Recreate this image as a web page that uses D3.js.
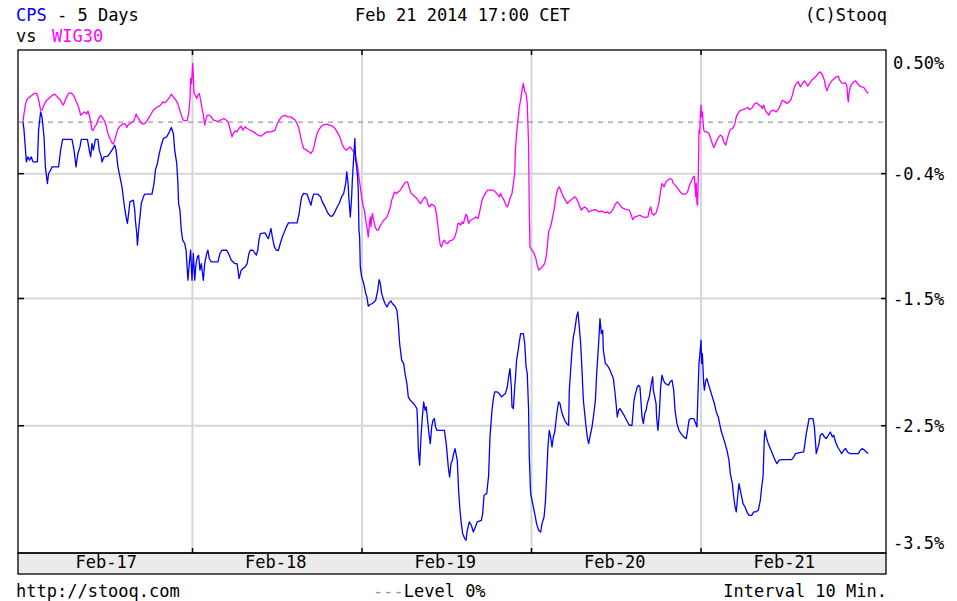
<!DOCTYPE html>
<html>
<head>
<meta charset="utf-8">
<script src="https://cdn.jsdelivr.net/npm/d3@7"></script>
<style>
  html, body { margin: 0; padding: 0; background: #fff; }
  svg { display: block; }
  text { font-family: "DejaVu Sans Mono", monospace; font-size: 17px; }
</style>
</head>
<body>
<div id="chart"></div>
<script>
// ---------- DATA ----------
const dayLabels = ["Feb-17", "Feb-18", "Feb-19", "Feb-20", "Feb-21"];
const yTickValues = [0.5, -0.43, -1.47, -2.53, -3.5];
const yTickLabels = ["0.50%", "-0.4%", "-1.5%", "-2.5%", "-3.5%"];
const gridValues = [-0.43, -1.47, -2.53];
const levelValue = 0;

// [time in trading days since Feb-17 open, % change]
const cpsSeries = [
[0,0],[0.006,-0.068],[0.020,-0.332],[0.029,-0.290],[0.039,-0.318],[0.049,-0.290],[0.059,-0.332],[0.085,-0.332],[0.092,-0.068],[0.104,0.085],[0.112,0.043],[0.124,-0.123],[0.132,-0.373],[0.144,-0.512],[0.151,-0.429],[0.163,-0.401],[0.171,-0.373],[0.210,-0.373],[0.222,-0.234],[0.234,-0.145],[0.289,-0.145],[0.301,-0.234],[0.313,-0.373],[0.324,-0.262],[0.336,-0.207],[0.344,-0.145],[0.380,-0.145],[0.391,-0.234],[0.399,-0.290],[0.407,-0.179],[0.415,-0.234],[0.427,-0.145],[0.442,-0.145],[0.450,-0.234],[0.462,-0.290],[0.466,-0.332],[0.478,-0.290],[0.501,-0.284],[0.525,-0.234],[0.541,-0.193],[0.549,-0.234],[0.560,-0.373],[0.572,-0.457],[0.584,-0.540],[0.596,-0.679],[0.608,-0.790],[0.616,-0.845],[0.623,-0.762],[0.631,-0.665],[0.651,-0.651],[0.659,-0.734],[0.663,-0.818],[0.671,-0.929],[0.675,-1.026],[0.682,-0.901],[0.690,-0.790],[0.698,-0.679],[0.710,-0.623],[0.718,-0.601],[0.761,-0.601],[0.773,-0.512],[0.781,-0.401],[0.793,-0.345],[0.804,-0.262],[0.816,-0.193],[0.828,-0.137],[0.848,-0.123],[0.859,-0.095],[0.875,-0.045],[0.887,-0.095],[0.895,-0.234],[0.907,-0.345],[0.914,-0.512],[0.918,-0.679],[0.926,-0.734],[0.934,-0.901],[0.942,-0.984],[0.954,-1.012],[0.962,-1.068],[0.973,-1.318],[0.981,-1.179],[0.989,-1.068],[0.997,-1.318],[1.005,-1.095],[1.013,-1.318],[1.021,-1.179],[1.029,-1.123],[1.036,-1.109],[1.044,-1.234],[1.052,-1.179],[1.064,-1.318],[1.072,-1.179],[1.084,-1.095],[1.091,-1.068],[1.099,-1.137],[1.111,-1.165],[1.150,-1.165],[1.162,-1.095],[1.174,-1.068],[1.202,-1.068],[1.217,-1.109],[1.229,-1.151],[1.249,-1.179],
[1.263,-1.179],[1.275,-1.304],[1.287,-1.234],[1.298,-1.220],[1.310,-1.207],[1.322,-1.179],[1.333,-1.095],[1.341,-1.068],[1.357,-1.068],[1.369,-1.095],[1.377,-1.109],[1.385,-1.068],[1.392,-0.984],[1.400,-0.929],[1.428,-0.923],[1.440,-0.957],[1.448,-0.970],[1.455,-0.929],[1.463,-0.887],[1.471,-0.957],[1.483,-1.040],[1.495,-1.068],[1.507,-1.068],[1.518,-1.012],[1.530,-0.957],[1.542,-0.915],[1.554,-0.873],[1.566,-0.840],[1.617,-0.840],[1.629,-0.762],[1.637,-0.679],[1.644,-0.623],[1.656,-0.595],[1.676,-0.601],[1.688,-0.651],[1.699,-0.693],[1.707,-0.637],[1.715,-0.601],[1.739,-0.601],[1.755,-0.623],[1.766,-0.665],[1.782,-0.707],[1.798,-0.757],[1.813,-0.784],[1.825,-0.784],[1.837,-0.757],[1.849,-0.720],[1.865,-0.679],[1.880,-0.623],[1.892,-0.595],[1.904,-0.512],[1.910,-0.415],[1.918,-0.512],[1.922,-0.623],[1.931,-0.790],[1.939,-0.623],[1.943,-0.484],[1.950,-0.318],[1.954,-0.234],[1.958,-0.137],[1.962,-0.318],[1.966,-0.345],[1.974,-0.457],[1.978,-0.568],[1.982,-0.901],[1.986,-0.957],[1.990,-1.207],[1.998,-1.290],[2.010,-1.345],[2.022,-1.429],[2.029,-1.457],[2.037,-1.534],[2.049,-1.518],[2.061,-1.512],[2.073,-1.498],[2.081,-1.484],[2.093,-1.401],[2.101,-1.312],[2.108,-1.345],[2.116,-1.429],[2.128,-1.484],[2.136,-1.512],[2.148,-1.540],[2.159,-1.507],[2.171,-1.490],[2.179,-1.512],[2.195,-1.534],[2.206,-1.568],[2.214,-1.679],[2.222,-1.845],[2.234,-1.984],[2.246,-2.012],[2.254,-2.095],[2.265,-2.179],[2.273,-2.290],[2.285,-2.318],[2.301,-2.340],[2.312,-2.359],[2.324,-2.387],[2.328,-2.512],[2.332,-2.720],[2.340,-2.859],[2.348,-2.623],[2.356,-2.457],[2.364,-2.332],[2.372,-2.401],[2.379,-2.373],[2.387,-2.484],[2.395,-2.595],[2.403,-2.679],[2.411,-2.540],[2.419,-2.484],[2.427,-2.470],[2.434,-2.540],[2.442,-2.568],[2.486,-2.568],[2.497,-2.679],[2.509,-2.873],[2.517,-2.957],[2.525,-2.845],[2.533,-2.818],[2.541,-2.762],[2.549,-2.720],
[2.562,-2.818],[2.570,-3.068],[2.578,-3.234],[2.586,-3.345],[2.594,-3.429],[2.606,-3.470],[2.614,-3.484],[2.621,-3.401],[2.633,-3.331],[2.645,-3.359],[2.657,-3.415],[2.669,-3.373],[2.680,-3.331],[2.704,-3.318],[2.712,-3.262],[2.720,-3.109],[2.736,-3.095],[2.747,-2.943],[2.755,-2.623],[2.767,-2.401],[2.775,-2.304],[2.783,-2.248],[2.798,-2.248],[2.810,-2.262],[2.822,-2.290],[2.834,-2.276],[2.846,-2.262],[2.857,-2.207],[2.865,-2.123],[2.873,-2.054],[2.881,-2.207],[2.885,-2.373],[2.893,-2.387],[2.901,-2.207],[2.905,-2.137],[2.912,-1.984],[2.920,-1.915],[2.928,-1.832],[2.936,-1.762],[2.952,-1.762],[2.960,-1.845],[2.968,-2.040],[2.975,-2.095],[2.983,-2.401],[2.987,-2.790],[2.995,-3.095],[3.007,-3.179],[3.019,-3.262],[3.030,-3.345],[3.042,-3.401],[3.054,-3.415],[3.062,-3.345],[3.074,-3.290],[3.082,-3.165],[3.089,-2.957],[3.097,-2.707],[3.105,-2.568],[3.113,-2.623],[3.121,-2.707],[3.129,-2.623],[3.137,-2.582],[3.145,-2.484],[3.152,-2.401],[3.160,-2.332],[3.168,-2.345],[3.176,-2.401],[3.184,-2.443],[3.196,-2.484],[3.207,-2.512],[3.219,-2.526],[3.223,-2.234],[3.231,-2.068],[3.239,-1.901],[3.247,-1.790],[3.255,-1.734],[3.266,-1.623],[3.274,-1.582],[3.282,-1.707],[3.290,-1.845],[3.298,-2.068],[3.306,-2.318],[3.314,-2.429],[3.322,-2.540],[3.329,-2.623],[3.337,-2.679],[3.345,-2.623],[3.357,-2.540],[3.365,-2.457],[3.377,-2.318],[3.384,-2.109],[3.396,-1.845],[3.404,-1.637],[3.412,-1.762],[3.420,-1.734],[3.424,-1.901],[3.436,-2.012],[3.447,-2.026],[3.459,-2.054],[3.471,-2.095],[3.483,-2.137],[3.491,-2.234],[3.499,-2.345],[3.506,-2.457],[3.514,-2.401],[3.522,-2.387],[3.534,-2.415],[3.546,-2.443],[3.561,-2.484],[3.577,-2.526],[3.593,-2.526],[3.605,-2.318],[3.613,-2.262],[3.624,-2.207],[3.632,-2.193],[3.640,-2.207],[3.644,-2.290],[3.652,-2.457],[3.660,-2.512],[3.668,-2.429],[3.676,-2.401],[3.683,-2.345],[3.695,-2.290],[3.707,-2.179],[3.715,-2.123],[3.719,-2.234],[3.727,-2.290],[3.735,-2.345],[3.738,-2.457],[3.746,-2.568],[3.754,-2.429],[3.762,-2.207],[3.770,-2.109],[3.778,-2.151],[3.790,-2.179],[3.809,-2.193],[3.817,-2.165],[3.829,-2.151],
[3.839,-2.234],[3.847,-2.401],[3.858,-2.512],[3.870,-2.568],[3.882,-2.595],[3.898,-2.623],[3.913,-2.637],[3.921,-2.568],[3.929,-2.484],[3.937,-2.470],[3.957,-2.470],[3.969,-2.512],[3.976,-2.540],[3.980,-2.359],[3.988,-2.012],[3.992,-1.957],[4.000,-1.818],[4.004,-2.012],[4.008,-1.929],[4.016,-2.179],[4.020,-2.234],[4.028,-2.151],[4.035,-2.137],[4.043,-2.179],[4.055,-2.234],[4.067,-2.290],[4.079,-2.345],[4.090,-2.415],[4.102,-2.457],[4.110,-2.512],[4.118,-2.568],[4.130,-2.623],[4.142,-2.679],[4.153,-2.734],[4.165,-2.818],[4.173,-2.929],[4.185,-3.012],[4.193,-3.123],[4.201,-3.207],[4.208,-3.248],[4.216,-3.123],[4.224,-3.012],[4.232,-3.068],[4.240,-3.123],[4.248,-3.179],[4.260,-3.207],[4.271,-3.248],[4.283,-3.276],[4.299,-3.276],[4.311,-3.248],[4.323,-3.248],[4.338,-3.234],[4.350,-3.151],[4.358,-3.040],[4.366,-2.957],[4.374,-2.623],[4.378,-2.568],[4.385,-2.623],[4.397,-2.679],[4.409,-2.720],[4.421,-2.762],[4.433,-2.804],[4.448,-2.846],[4.460,-2.818],[4.476,-2.812],[4.535,-2.812],[4.547,-2.790],[4.558,-2.762],[4.574,-2.756],[4.606,-2.748],[4.613,-2.679],[4.621,-2.595],[4.633,-2.507],[4.637,-2.470],[4.661,-2.470],[4.669,-2.540],[4.676,-2.679],[4.680,-2.762],[4.688,-2.720],[4.696,-2.679],[4.704,-2.609],[4.716,-2.595],[4.728,-2.623],[4.739,-2.637],[4.751,-2.609],[4.763,-2.582],[4.775,-2.623],[4.783,-2.609],[4.794,-2.665],[4.806,-2.707],[4.818,-2.734],[4.830,-2.762],[4.842,-2.734],[4.853,-2.720],[4.865,-2.748],[4.877,-2.762],[4.928,-2.762],[4.940,-2.734],[4.952,-2.720],[4.964,-2.734],[4.975,-2.748],[4.987,-2.762]
];

const wig30Series = [
[0,0],[0.006,0.071],[0.014,0.141],[0.022,0.182],[0.029,0.196],[0.041,0.210],[0.053,0.224],[0.065,0.238],[0.081,0.238],[0.088,0.210],[0.096,0.155],[0.104,0.099],[0.112,0.099],[0.120,0.127],[0.128,0.155],[0.140,0.182],[0.151,0.196],[0.163,0.210],[0.175,0.224],[0.187,0.232],[0.199,0.216],[0.210,0.196],[0.222,0.182],[0.230,0.155],[0.238,0.141],[0.246,0.168],[0.258,0.210],[0.269,0.238],[0.285,0.243],[0.297,0.224],[0.309,0.188],[0.321,0.149],[0.332,0.105],[0.340,0.057],[0.352,0.071],[0.364,0.085],[0.376,0.066],[0.383,0.093],[0.391,0.057],[0.399,0.002],[0.407,-0.068],[0.415,-0.068],[0.423,-0.040],[0.431,-0.026],[0.439,0.002],[0.446,0.030],[0.458,0.055],[0.466,0.043],[0.478,0.016],[0.490,-0.026],[0.501,-0.095],[0.513,-0.137],[0.525,-0.173],[0.533,-0.184],[0.541,-0.151],[0.549,-0.109],[0.557,-0.068],[0.568,-0.040],[0.580,-0.026],[0.592,-0.012],[0.604,-0.018],[0.612,-0.045],[0.619,-0.026],[0.631,-0.012],[0.639,-0.007],[0.651,0.002],[0.659,0.030],[0.667,0.066],[0.675,0.043],[0.682,0.030],[0.690,0.010],[0.698,-0.012],[0.710,-0.018],[0.722,-0.007],[0.734,0.016],[0.745,0.043],[0.757,0.071],[0.769,0.099],[0.781,0.113],[0.793,0.127],[0.804,0.132],[0.816,0.149],[0.824,0.168],[0.832,0.160],[0.844,0.168],[0.855,0.188],[0.867,0.210],[0.875,0.232],[0.887,0.210],[0.899,0.188],[0.911,0.160],[0.922,0.113],[0.934,0.057],[0.946,0.016],[0.958,0.010],[0.970,0.016],[0.977,0.071],[0.985,0.182],[0.989,0.363],[0.993,0.321],[0.997,0.377],[1.001,0.488],[1.005,0.377],[1.009,0.238],[1.017,0.224],[1.025,0.196],[1.032,0.224],[1.040,0.238],[1.048,0.182],[1.056,0.113],[1.064,0.057],[1.072,-0.026],[1.080,0.030],[1.088,0.057],[1.099,0.057],[1.111,0.043],[1.123,0.016],[1.139,0.010],[1.150,0.002],[1.162,0.016],[1.174,0.021],[1.186,0.030],[1.198,0.016],[1.209,0.002],[1.221,-0.054],[1.233,-0.123],[1.241,-0.095],[1.253,-0.073],
[1.263,-0.082],[1.274,-0.054],[1.286,-0.034],[1.298,-0.068],[1.310,-0.040],[1.322,-0.054],[1.333,-0.062],[1.349,-0.073],[1.361,-0.082],[1.373,-0.095],[1.388,-0.109],[1.404,-0.118],[1.420,-0.101],[1.440,-0.082],[1.463,-0.082],[1.487,-0.068],[1.495,-0.034],[1.506,0.002],[1.518,0.030],[1.530,0.049],[1.546,0.055],[1.561,0.043],[1.577,0.043],[1.593,0.030],[1.605,0.016],[1.617,-0.012],[1.628,-0.054],[1.636,-0.109],[1.644,-0.165],[1.656,-0.220],[1.672,-0.234],[1.687,-0.248],[1.699,-0.262],[1.711,-0.234],[1.719,-0.193],[1.727,-0.137],[1.735,-0.095],[1.746,-0.062],[1.758,-0.040],[1.770,-0.026],[1.790,-0.018],[1.809,-0.026],[1.825,-0.034],[1.841,-0.054],[1.853,-0.082],[1.864,-0.109],[1.876,-0.151],[1.884,-0.193],[1.896,-0.220],[1.908,-0.234],[1.919,-0.220],[1.931,-0.207],[1.943,-0.234],[1.951,-0.248],[1.959,-0.234],[1.963,-0.290],[1.967,-0.318],[1.974,-0.373],[1.982,-0.457],[1.990,-0.540],[1.998,-0.623],[2.006,-0.693],[2.014,-0.734],[2.022,-0.818],[2.029,-0.873],[2.037,-0.957],[2.045,-0.832],[2.049,-0.790],[2.053,-0.873],[2.057,-0.804],[2.061,-0.762],[2.069,-0.818],[2.077,-0.873],[2.088,-0.901],[2.096,-0.901],[2.104,-0.873],[2.116,-0.845],[2.128,-0.818],[2.140,-0.804],[2.147,-0.790],[2.159,-0.748],[2.167,-0.707],[2.175,-0.651],[2.183,-0.623],[2.191,-0.582],[2.203,-0.595],[2.214,-0.582],[2.226,-0.568],[2.238,-0.540],[2.250,-0.512],[2.262,-0.498],[2.269,-0.498],[2.277,-0.540],[2.289,-0.590],[2.301,-0.609],[2.313,-0.623],[2.324,-0.637],[2.336,-0.665],[2.344,-0.679],[2.352,-0.665],[2.360,-0.645],[2.372,-0.623],[2.383,-0.651],[2.391,-0.693],[2.399,-0.707],[2.411,-0.684],[2.423,-0.693],[2.431,-0.707],[2.439,-0.762],[2.446,-0.845],[2.454,-0.943],[2.462,-1.026],[2.470,-1.040],[2.478,-0.998],[2.486,-0.984],[2.494,-1.007],[2.505,-1.012],[2.517,-0.990],
[2.531,-0.984],[2.543,-0.970],[2.551,-0.943],[2.559,-0.901],[2.566,-0.845],[2.574,-0.845],[2.582,-0.859],[2.590,-0.832],[2.598,-0.845],[2.606,-0.804],[2.614,-0.768],[2.621,-0.790],[2.629,-0.845],[2.637,-0.823],[2.649,-0.812],[2.661,-0.804],[2.673,-0.790],[2.684,-0.804],[2.692,-0.762],[2.700,-0.707],[2.708,-0.651],[2.716,-0.623],[2.728,-0.595],[2.740,-0.568],[2.775,-0.568],[2.787,-0.582],[2.798,-0.601],[2.810,-0.623],[2.818,-0.595],[2.826,-0.623],[2.838,-0.651],[2.850,-0.693],[2.857,-0.707],[2.865,-0.679],[2.873,-0.637],[2.885,-0.595],[2.893,-0.512],[2.901,-0.429],[2.905,-0.234],[2.912,-0.095],[2.920,0.016],[2.928,0.127],[2.936,0.182],[2.944,0.266],[2.952,0.321],[2.960,0.252],[2.968,0.238],[2.975,0.155],[2.983,-0.193],[2.987,-0.748],[2.991,-1.040],[3.003,-1.068],[3.011,-1.082],[3.019,-1.109],[3.026,-1.137],[3.034,-1.193],[3.042,-1.234],[3.054,-1.220],[3.066,-1.201],[3.078,-1.179],[3.086,-1.123],[3.093,-1.040],[3.101,-0.915],[3.109,-0.887],[3.117,-0.845],[3.125,-0.790],[3.133,-0.734],[3.141,-0.651],[3.148,-0.595],[3.156,-0.554],[3.164,-0.540],[3.172,-0.568],[3.180,-0.595],[3.188,-0.623],[3.200,-0.651],[3.212,-0.679],[3.219,-0.665],[3.231,-0.651],[3.243,-0.637],[3.255,-0.623],[3.266,-0.637],[3.274,-0.665],[3.282,-0.693],[3.294,-0.734],[3.302,-0.720],[3.314,-0.707],[3.326,-0.720],[3.337,-0.748],[3.349,-0.740],[3.361,-0.734],[3.377,-0.729],[3.388,-0.740],[3.400,-0.748],[3.412,-0.740],[3.424,-0.748],[3.436,-0.757],[3.447,-0.748],[3.459,-0.762],[3.471,-0.748],[3.483,-0.720],[3.495,-0.684],[3.506,-0.665],[3.518,-0.684],[3.530,-0.707],[3.542,-0.720],[3.561,-0.729],[3.577,-0.734],[3.589,-0.776],[3.597,-0.812],[3.609,-0.790],[3.624,-0.784],[3.640,-0.776],[3.656,-0.790],[3.672,-0.795],[3.687,-0.790],[3.695,-0.734],[3.703,-0.707],[3.711,-0.762],[3.723,-0.776],[3.735,-0.757],[3.746,-0.707],[3.754,-0.651],[3.762,-0.568],[3.770,-0.512],[3.782,-0.540],[3.794,-0.498],[3.805,-0.484],[3.817,-0.470],[3.829,-0.479],
[3.835,-0.507],[3.847,-0.526],[3.858,-0.545],[3.870,-0.568],[3.882,-0.590],[3.894,-0.601],[3.909,-0.601],[3.921,-0.582],[3.929,-0.540],[3.941,-0.498],[3.953,-0.462],[3.961,-0.451],[3.965,-0.540],[3.969,-0.623],[3.972,-0.512],[3.976,-0.679],[3.980,-0.693],[3.984,-0.457],[3.988,-0.068],[3.992,-0.095],[3.996,0.043],[4.000,0.141],[4.004,0.043],[4.008,0.085],[4.016,-0.068],[4.024,-0.082],[4.035,-0.082],[4.047,-0.095],[4.055,-0.129],[4.063,-0.165],[4.075,-0.212],[4.083,-0.193],[4.090,-0.165],[4.102,-0.129],[4.114,-0.109],[4.126,-0.123],[4.134,-0.165],[4.146,-0.193],[4.153,-0.151],[4.161,-0.109],[4.173,-0.062],[4.185,-0.054],[4.193,-0.040],[4.201,-0.007],[4.208,0.043],[4.216,0.066],[4.224,0.085],[4.236,0.099],[4.252,0.105],[4.264,0.113],[4.275,0.121],[4.287,0.105],[4.299,0.113],[4.307,0.132],[4.319,0.155],[4.330,0.160],[4.342,0.141],[4.354,0.132],[4.362,0.113],[4.370,0.141],[4.378,0.099],[4.389,0.077],[4.401,0.057],[4.409,0.085],[4.421,0.099],[4.433,0.093],[4.444,0.085],[4.456,0.105],[4.468,0.141],[4.480,0.182],[4.496,0.168],[4.507,0.155],[4.519,0.168],[4.531,0.188],[4.539,0.224],[4.551,0.293],[4.563,0.321],[4.574,0.335],[4.586,0.293],[4.598,0.321],[4.610,0.343],[4.621,0.321],[4.629,0.299],[4.641,0.321],[4.653,0.349],[4.665,0.363],[4.676,0.377],[4.688,0.399],[4.700,0.418],[4.712,0.405],[4.720,0.377],[4.728,0.349],[4.735,0.293],[4.743,0.260],[4.751,0.293],[4.763,0.327],[4.775,0.349],[4.787,0.363],[4.798,0.377],[4.810,0.382],[4.818,0.349],[4.830,0.327],[4.842,0.321],[4.853,0.327],[4.861,0.299],[4.865,0.210],[4.869,0.168],[4.873,0.238],[4.881,0.293],[4.889,0.316],[4.901,0.335],[4.912,0.343],[4.924,0.321],[4.936,0.299],[4.948,0.293],[4.960,0.288],[4.971,0.266],[4.983,0.243],[4.987,0.238]
];

// ---------- LAYOUT ----------
const W = 957, H = 601;
const plot = { left: 18, right: 886, top: 50, bottom: 553 };
const bandBottom = 574;
const cpsColor = "#0000ff", wigColor = "#ff00ff";

const svg = d3.select("#chart").append("svg").attr("width", W).attr("height", H);
svg.append("rect").attr("width", W).attr("height", H).attr("fill", "#fff");

const x = d3.scaleLinear().domain([0, 5]).range([23, 870.5]);
const y = d3.scaleLinear().domain([0.6, -3.59]).range([plot.top, plot.bottom]);

// horizontal grid
svg.append("g").selectAll("line").data(gridValues).join("line")
  .attr("x1", plot.left).attr("x2", plot.right)
  .attr("y1", d => y(d)).attr("y2", d => y(d))
  .attr("stroke", "#d6d6d6").attr("stroke-width", 2);

// vertical grid at day boundaries
const dayBounds = d3.range(1, dayLabels.length);
svg.append("g").selectAll("line").data(dayBounds).join("line")
  .attr("x1", d => x(d)).attr("x2", d => x(d))
  .attr("y1", plot.top).attr("y2", plot.bottom)
  .attr("stroke", "#d6d6d6").attr("stroke-width", 2);

// zero level dashed
svg.append("line")
  .attr("x1", plot.left).attr("x2", plot.right)
  .attr("y1", y(levelValue)).attr("y2", y(levelValue))
  .attr("stroke", "#999").attr("stroke-width", 1.3).attr("stroke-dasharray", "5,5");

// series
const line = d3.line().x(d => x(d[0])).y(d => y(d[1]));
svg.append("path").datum(wig30Series).attr("d", line)
  .attr("fill", "none").attr("stroke", wigColor).attr("stroke-width", 1.3).attr("stroke-linejoin", "round");
svg.append("path").datum(cpsSeries).attr("d", line)
  .attr("fill", "none").attr("stroke", cpsColor).attr("stroke-width", 1.3).attr("stroke-linejoin", "round");

// x band
svg.append("rect").attr("x", plot.left).attr("y", plot.bottom)
  .attr("width", plot.right - plot.left).attr("height", bandBottom - plot.bottom)
  .attr("fill", "#ebebeb").attr("stroke", "#000").attr("stroke-width", 1.3);

// plot frame
svg.append("rect").attr("x", plot.left).attr("y", plot.top)
  .attr("width", plot.right - plot.left).attr("height", plot.bottom - plot.top)
  .attr("fill", "none").attr("stroke", "#000").attr("stroke-width", 1.3);

// small tick marks
const tk = svg.append("g").attr("stroke", "#000").attr("stroke-width", 1.5);
dayBounds.forEach(d => {
  tk.append("line").attr("x1", x(d)).attr("x2", x(d)).attr("y1", plot.top).attr("y2", plot.top + 5);
  tk.append("line").attr("x1", x(d)).attr("x2", x(d)).attr("y1", plot.bottom - 5).attr("y2", plot.bottom);
});
gridValues.forEach(v => {
  tk.append("line").attr("x1", plot.left).attr("x2", plot.left + 6).attr("y1", y(v)).attr("y2", y(v));
  tk.append("line").attr("x1", plot.right - 5).attr("x2", plot.right).attr("y1", y(v)).attr("y2", y(v));
});

// right axis labels
const yAxis = d3.axisRight(y).tickValues(yTickValues)
  .tickFormat((d, i) => yTickLabels[i]).tickSize(0).tickPadding(7);
const gy = svg.append("g").attr("transform", `translate(${plot.right},0)`).call(yAxis);
gy.select(".domain").remove();
gy.selectAll("text").attr("font-family", "DejaVu Sans Mono").attr("font-size", 17)
  .attr("fill", "#000").attr("dy", "0.36em");

// day labels in band
const xAxis = d3.axisBottom(x).tickValues(dayLabels.map((d, i) => i + 0.5))
  .tickFormat((d, i) => dayLabels[i]).tickSize(0).tickPadding(3);
const gx = svg.append("g").attr("transform", `translate(-2,${plot.bottom})`).call(xAxis);
gx.select(".domain").remove();
gx.selectAll("text").attr("font-family", "DejaVu Sans Mono").attr("font-size", 17).attr("fill", "#000");

// header texts
const t1 = svg.append("text").attr("x", 16).attr("y", 21);
t1.append("tspan").attr("fill", cpsColor).text("CPS");
t1.append("tspan").attr("fill", "#000").text(" - 5 Days");
svg.append("text").attr("x", 16).attr("y", 42).attr("fill", "#000").text("vs");
svg.append("text").attr("x", 52).attr("y", 42).attr("fill", wigColor).text("WIG30");
svg.append("text").attr("x", 355).attr("y", 21).attr("fill", "#000").text("Feb 21 2014 17:00 CET");
svg.append("text").attr("x", 887).attr("y", 21).attr("text-anchor", "end").attr("fill", "#000").text("(C)Stooq");

// footer texts
svg.append("text").attr("x", 16).attr("y", 597).attr("fill", "#000").text("http://stooq.com");
const lv = svg.append("text").attr("x", 373).attr("y", 597);
lv.append("tspan").attr("fill", "#999").text("---");
lv.append("tspan").attr("fill", "#000").text("Level 0%");
svg.append("text").attr("x", 887).attr("y", 597).attr("text-anchor", "end").attr("fill", "#000").text("Interval 10 Min.");
</script>
</body>
</html>
